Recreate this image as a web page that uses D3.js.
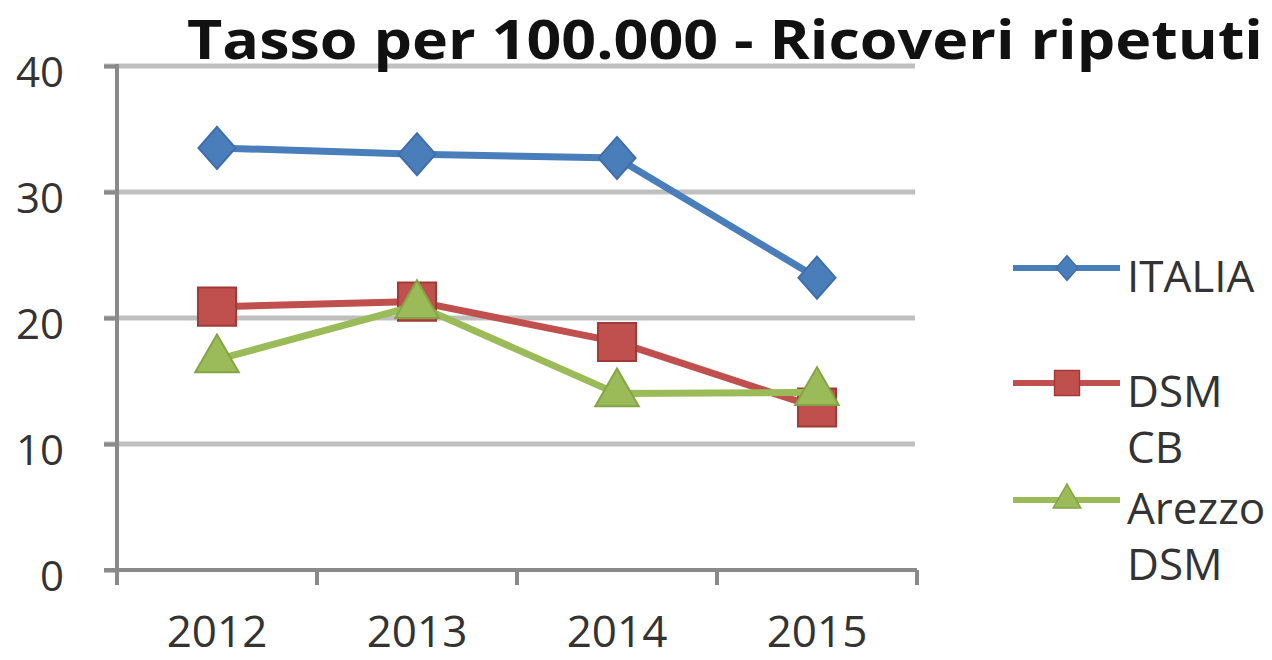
<!DOCTYPE html>
<html>
<head>
<meta charset="utf-8">
<script src="https://cdn.jsdelivr.net/npm/d3@7/dist/d3.min.js"></script>
<style>
  html, body { margin: 0; padding: 0; background: #ffffff; }
  svg { display: block; }
  text { font-family: "Open Sans", "DejaVu Sans", sans-serif; }
</style>
</head>
<body>
<svg id="chart" width="1272" height="660"></svg>
<script>
// Rate per 100,000 residents – repeated hospital admissions
const years = ["2012", "2013", "2014", "2015"];
const italia = [33.5, 33.0, 32.7, 23.2];
const dsmCB = [20.9, 21.3, 18.1, 12.9];
const arezzoDSM = [16.7, 21.0, 14.0, 14.1];
const yTicks = [0, 10, 20, 30, 40];
const titleText = "Tasso per 100.000 - Ricoveri ripetuti";

// Excel-style diamond: nearly as wide as it is tall
const wideDiamond = {
  draw(context, size) {
    const r = Math.sqrt(size / 2);
    context.moveTo(0, -r * 1.08);
    context.lineTo(r * 0.95, 0);
    context.lineTo(0, r * 1.08);
    context.lineTo(-r * 0.95, 0);
    context.closePath();
  }
};

const series = [
  { name: ["ITALIA"], values: italia, color: "#4a7ebb", stroke: "#3f6ea8", shape: wideDiamond, size: 760, legendSize: 260 },
  { name: ["DSM", "CB"], values: dsmCB, color: "#c0504d", stroke: "#a03a37", shape: d3.symbolSquare, size: 1450, legendSize: 620 },
  { name: ["Arezzo", "DSM"], values: arezzoDSM, color: "#9bbb59", stroke: "#84a546", shape: d3.symbolTriangle, size: 820, legendSize: 330 }
];

const svg = d3.select("#chart");
const plot = { left: 117, right: 917, top: 66, bottom: 570 };

const x = d3.scaleBand().domain(years).range([plot.left, plot.right]);
const y = d3.scaleLinear().domain([0, 40]).range([plot.bottom, plot.top]);

// horizontal gridlines (with the small left tick built in)
svg.append("g")
  .selectAll("line")
  .data(yTicks.filter(t => t > 0))
  .join("line")
  .attr("x1", plot.left - 13)
  .attr("x2", plot.right - 2)
  .attr("y1", d => y(d))
  .attr("y2", d => y(d))
  .attr("stroke", "#bfbfbf")
  .attr("stroke-width", 5);

// y axis
const yAxis = svg.append("g")
  .attr("transform", `translate(${plot.left},0)`)
  .call(d3.axisLeft(y).tickValues(yTicks).tickSize(13).tickPadding(40).tickFormat(d3.format("d")));
yAxis.select(".domain")
  .attr("d", `M0,${plot.top - 2}V${plot.bottom + 15}`)
  .attr("stroke", "#8a8a8a")
  .attr("stroke-width", 4);
yAxis.selectAll(".tick line").attr("stroke", "#8a8a8a").attr("stroke-width", 4);
yAxis.selectAll(".tick text")
  .attr("font-size", 42)
  .attr("fill", "#333")
  .attr("dy", "0.48em");

// x axis: labels under categories, tick marks on category boundaries
const xAxis = svg.append("g")
  .attr("transform", `translate(0,${plot.bottom})`)
  .call(d3.axisBottom(x).tickSize(0).tickPadding(0));
xAxis.select(".domain")
  .attr("d", `M${plot.left - 13},0H${plot.right}`)
  .attr("stroke", "#8a8a8a")
  .attr("stroke-width", 4);
xAxis.selectAll(".tick text")
  .attr("font-size", 44)
  .attr("fill", "#333")
  .attr("y", 77)
  .attr("dy", 0);
const boundaries = years.map(d => x(d)).concat([x(years[years.length - 1]) + x.bandwidth()]);
xAxis.append("g")
  .selectAll("line")
  .data(boundaries.slice(1))
  .join("line")
  .attr("x1", d => d)
  .attr("x2", d => d)
  .attr("y1", 0)
  .attr("y2", 15)
  .attr("stroke", "#8a8a8a")
  .attr("stroke-width", 4);

// series lines and markers
const cx = d => x(d) + x.bandwidth() / 2;
const line = d3.line().x((v, i) => cx(years[i])).y(v => y(v));

series.forEach(s => {
  const g = svg.append("g");
  g.append("path")
    .datum(s.values)
    .attr("d", line)
    .attr("fill", "none")
    .attr("stroke", s.color)
    .attr("stroke-width", 7)
    .attr("stroke-linejoin", "round");
  g.selectAll("path.pt")
    .data(s.values)
    .join("path")
    .attr("class", "pt")
    .attr("transform", (v, i) => `translate(${cx(years[i])},${y(v)})`)
    .attr("d", d3.symbol().type(s.shape).size(s.size))
    .attr("fill", s.color)
    .attr("stroke", s.stroke)
    .attr("stroke-width", 2);
});

// legend
const legend = svg.append("g").attr("transform", "translate(1013,0)");
const legendRows = [268, 383, 500];
series.forEach((s, i) => {
  const ly = legendRows[i];
  legend.append("line")
    .attr("x1", 0).attr("x2", 107)
    .attr("y1", ly).attr("y2", ly)
    .attr("stroke", s.color)
    .attr("stroke-width", 6);
  legend.append("path")
    .attr("transform", `translate(54,${ly})`)
    .attr("d", d3.symbol().type(s.shape).size(s.legendSize))
    .attr("fill", s.color)
    .attr("stroke", s.stroke)
    .attr("stroke-width", 1.5);
  const t = legend.append("text")
    .attr("x", 114)
    .attr("y", ly + 24)
    .attr("font-size", 44)
    .attr("fill", "#333");
  s.name.forEach((part, k) => {
    t.append("tspan").attr("x", 114).attr("dy", k === 0 ? 0 : 56).text(part);
  });
});

// title
svg.append("text")
  .attr("x", 187)
  .attr("y", 59)
  .attr("font-size", 53)
  .attr("font-weight", 700)
  .attr("fill", "#111")
  .attr("textLength", 1076)
  .attr("lengthAdjust", "spacingAndGlyphs")
  .text(titleText);
</script>
</body>
</html>
